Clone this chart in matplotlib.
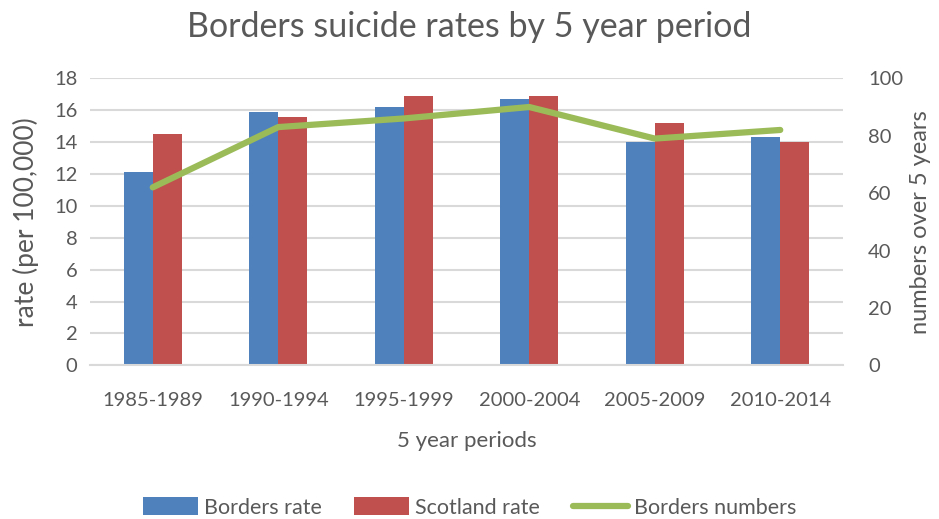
import matplotlib.pyplot as plt
import numpy as np

plt.rcParams.update({
    'font.family': ['Lato', 'DejaVu Sans'],
    'font.size': 11,
})

# Datos
periodos = ['1985-1989', '1990-1994', '1995-1999', '2000-2004', '2005-2009', '2010-2014']
borders_rate = [12.1, 15.9, 16.2, 16.7, 14.0, 14.3]
scotland_rate = [14.5, 15.6, 16.9, 16.9, 15.2, 14.0]
borders_numbers = [62, 83, 86, 90, 79, 82]

c_azul = '#4F81BD'
c_rojo = '#C0504D'
c_verde = '#9BBB59'
c_texto = '#595959'
c_grid = '#D9D9D9'

fig = plt.figure(figsize=(9.39, 5.19), dpi=100)
ax = fig.add_axes([90 / 939, 1 - 365.3 / 519, 753 / 939, 287 / 519])
ax2 = ax.twinx()

x = np.arange(len(periodos))
w = 0.23
b1 = ax.bar(x - w / 2, borders_rate, w, color=c_azul, label='Borders rate', zorder=2)
b2 = ax.bar(x + w / 2, scotland_rate, w, color=c_rojo, label='Scotland rate', zorder=2)
l1, = ax2.plot(x, borders_numbers, color=c_verde, lw=4.5, solid_capstyle='round',
               label='Borders numbers')

ax.set_xlim(-0.5, len(periodos) - 0.5)
ax.set_ylim(0, 18)
ax.set_yticks(range(0, 19, 2))
ax2.set_ylim(0, 100)
ax2.set_yticks(range(0, 101, 20))

ax.yaxis.grid(True, color=c_grid, lw=1.5, zorder=0)
ax.set_axisbelow(True)
for a in (ax, ax2):
    for s in a.spines.values():
        s.set_visible(False)
    a.tick_params(length=0, colors=c_texto, labelsize=14.5)
ax.spines['bottom'].set_visible(True)
ax.spines['bottom'].set_color(c_grid)
ax.spines['bottom'].set_linewidth(1.5)

ax.set_xticks(x)
ax.set_xticklabels(periodos)
ax.tick_params(axis='x', pad=19)
ax.tick_params(axis='y', pad=9)
ax2.tick_params(axis='y', pad=18)

ax.set_ylabel('rate (per 100,000)', color=c_texto, fontsize=19, labelpad=11)
ax2.set_ylabel('numbers over 5 years', color=c_texto, fontsize=17, labelpad=5)
ax.set_xlabel('5 year periods', color=c_texto, fontsize=16, labelpad=16)

fig.suptitle('Borders suicide rates by 5 year period', color=c_texto, fontsize=24.5,
             y=0.978)

fig.legend(handles=[b1, b2, l1], loc='lower center', bbox_to_anchor=(0.5, -0.035),
           ncol=3, frameon=False, fontsize=15.5, labelcolor=c_texto,
           handlelength=2.55, handleheight=0.9, columnspacing=1.5, handletextpad=0.3)

plt.savefig('out.png', dpi=100)
